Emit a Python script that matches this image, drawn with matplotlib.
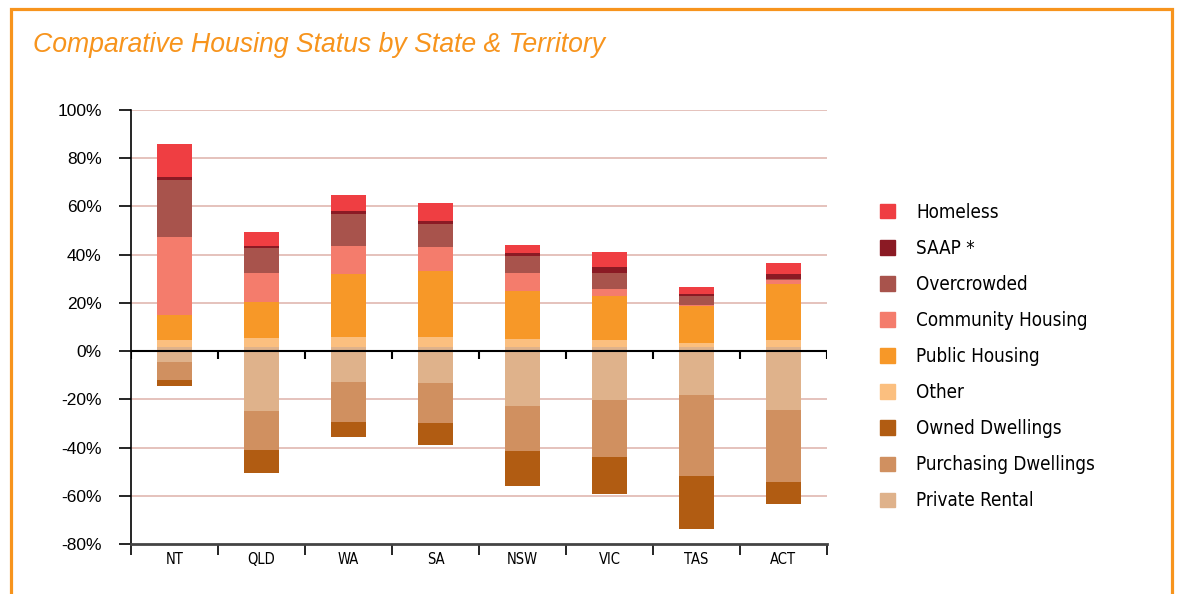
import matplotlib
matplotlib.use("Agg")
from matplotlib import pyplot as plt
from matplotlib.patches import Patch, Rectangle
import numpy as np

states = ["NT", "QLD", "WA", "SA", "NSW", "VIC", "TAS", "ACT"]

# positive stack (bottom to top), in %
other = [2.9, 3.7, 4.1, 4.1, 3.3, 2.9, 1.7, 2.9]
public_housing = [10.3, 14.9, 26.2, 27.4, 19.9, 18.2, 15.3, 23.2]
community_housing = [32.4, 12.0, 11.6, 10.0, 7.4, 2.9, 0.4, 1.7]
overcrowded = [23.6, 10.4, 13.2, 9.5, 7.1, 6.6, 3.7, 0.3]
saap = [1.2, 0.8, 1.3, 1.2, 1.2, 2.5, 0.9, 2.0]
homeless = [13.7, 5.8, 6.6, 7.5, 3.3, 6.2, 2.9, 4.6]

# negative stack (top to bottom), in %
private_rental = [6.2, 26.8, 14.5, 15.0, 24.4, 22.0, 19.8, 26.1]
purchasing = [7.5, 16.2, 16.6, 16.5, 19.0, 23.6, 33.6, 29.8]
owned = [2.5, 9.5, 6.2, 9.1, 14.5, 15.3, 22.0, 9.5]

orange = "#F7941D"
pos_series = [
    ("Other", other, "#FBBF7F"),
    ("Public Housing", public_housing, "#F79828"),
    ("Community Housing", community_housing, "#F47C6C"),
    ("Overcrowded", overcrowded, "#A8534C"),
    ("SAAP *", saap, "#8B1A24"),
    ("Homeless", homeless, "#EF3E42"),
]
neg_series = [
    ("Private Rental", private_rental, "#DFB28B"),
    ("Purchasing Dwellings", purchasing, "#D09060"),
    ("Owned Dwellings", owned, "#B15C12"),
]

regular = ["Liberation Sans", "DejaVu Sans"]

fig = plt.figure(figsize=(11.78, 5.94), dpi=100)
ax = fig.add_axes([0.1112, 0.0842, 0.5908, 0.7306])

x = np.arange(len(states))
w = 0.40
base = 1.8  # stacks start slightly above the zero line

bottom = np.full(len(states), base)
for name, vals, col in pos_series:
    ax.bar(x, vals, w, bottom=bottom, color=col, zorder=3)
    bottom = bottom + np.array(vals)

top = np.full(len(states), base)
for name, vals, col in neg_series:
    ax.bar(x, -np.array(vals), w, bottom=top, color=col, zorder=3)
    top = top - np.array(vals)

ax.set_xlim(-0.5, len(states) - 0.5)
ax.set_ylim(-80, 100)

for yv in [20, 40, 60, 80, 100, -20, -40, -60]:
    ax.axhline(yv, color="#E3BDB6", lw=1.3, zorder=1)
ax.axhline(0, color="black", lw=1.5, zorder=4)
ax.vlines(np.arange(len(states) + 1) - 0.5, -3.4, 0, color="black", lw=1.5, zorder=4)

for s in ["top", "right"]:
    ax.spines[s].set_visible(False)
ax.spines["left"].set_linewidth(1.2)
ax.spines["bottom"].set_color("#444444")
ax.spines["bottom"].set_linewidth(2)

ax.set_yticks(np.arange(-80, 101, 20))
ax.set_yticklabels([f"{v}%" for v in range(-80, 101, 20)], fontsize=12.5, family=regular)
ax.tick_params(axis="y", length=9, width=1.2, pad=12)

ax.set_xticks(np.arange(len(states) + 1) - 0.5)
ax.set_xticklabels([])
ax.tick_params(axis="x", which="major", length=8, width=1.2)
ax.set_xticks(x, minor=True)
ax.set_xticklabels(states, minor=True, fontsize=10.5, family="DejaVu Sans", fontstretch="condensed")
ax.tick_params(axis="x", which="minor", length=0, pad=6)

handles = [Patch(color=c, label=n) for n, v, c in (pos_series[::-1] + neg_series[::-1])]
fig.legend(handles=handles, loc="upper left", bbox_to_anchor=(0.733, 0.687),
           frameon=False, prop={"family": "DejaVu Sans", "stretch": "condensed", "size": 13.5},
           handlelength=0.8, handleheight=0.8, handletextpad=1.1, labelspacing=0.91)

fig.text(0.028, 0.925, "Comparative Housing Status by State & Territory",
         color=orange, fontsize=19.2, style="italic", family=regular, va="center")

fig.patches.append(Rectangle((11 / 1178, -0.1), 1161 / 1178, 1.1 - 9 / 594,
                             transform=fig.transFigure, fill=False,
                             edgecolor=orange, lw=2.3))

fig.savefig("out.png", dpi=100)
